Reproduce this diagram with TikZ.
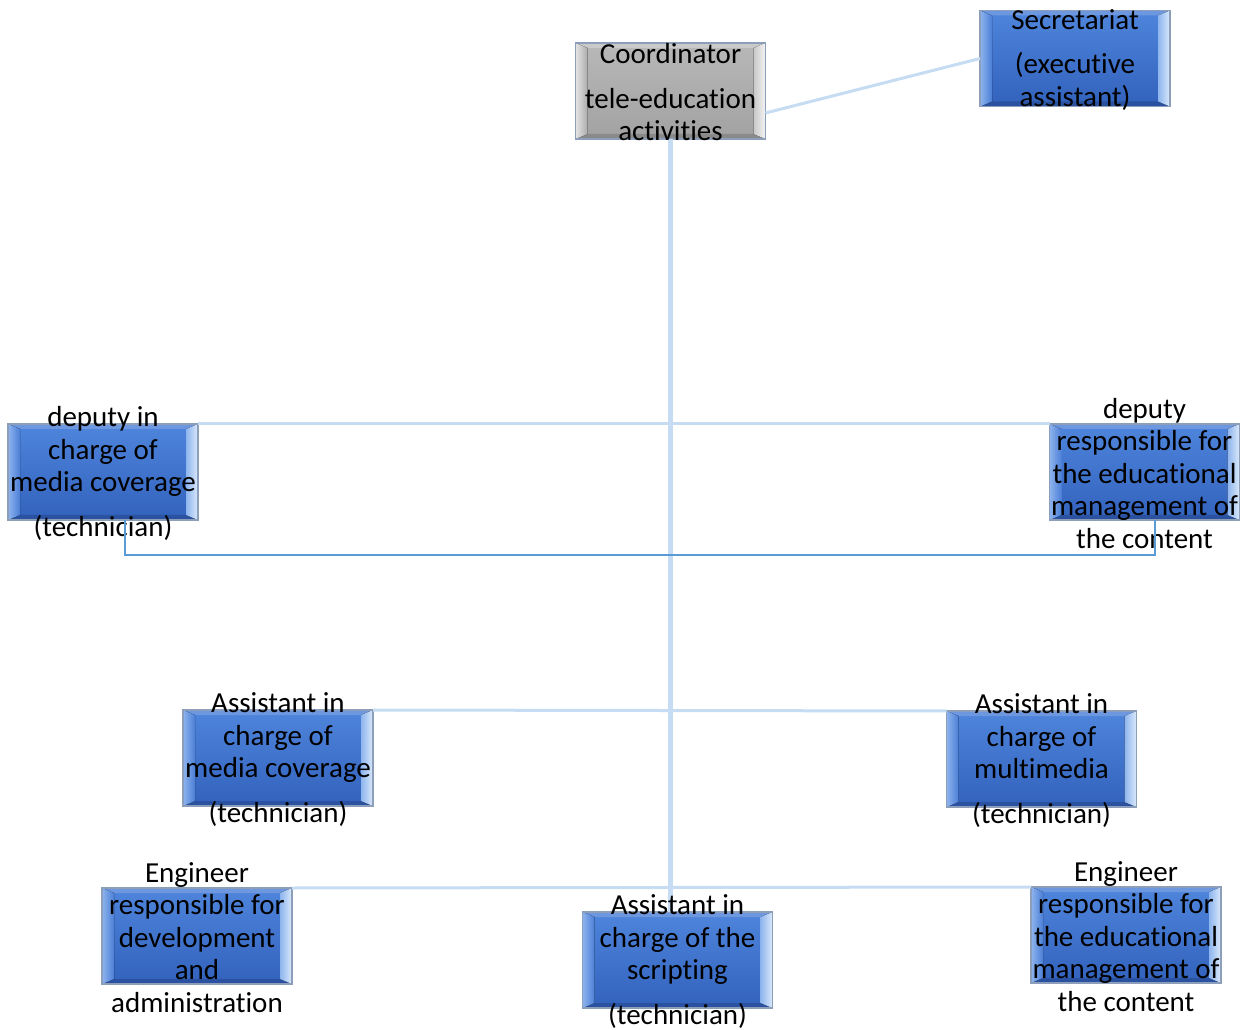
\documentclass[tikz,border=0pt]{standalone}
\usepackage{fontspec}
\setmainfont[RawFeature={-liga;-clig;-calt;-dlig}]{Carlito}
\usetikzlibrary{calc}
\definecolor{bmTop}{HTML}{4F85DC}
\definecolor{bmBot}{HTML}{3262BC}
\definecolor{bTopB}{HTML}{6D98E0}
\definecolor{bBotB}{HTML}{2A52A0}
\definecolor{bL1}{HTML}{8FB4EE}
\definecolor{bL2}{HTML}{4A7ED6}
\definecolor{bR1}{HTML}{8DB5EE}
\definecolor{bR2}{HTML}{DCE9FB}
\definecolor{gmTop}{HTML}{B8B8B8}
\definecolor{gmBot}{HTML}{A2A2A2}
\definecolor{gTopB}{HTML}{CACACA}
\definecolor{gBotB}{HTML}{8A8A8A}
\definecolor{gL1}{HTML}{E4E4E4}
\definecolor{gL2}{HTML}{ACACAC}
\definecolor{gR1}{HTML}{C8C8C8}
\definecolor{gR2}{HTML}{F4F4F4}
\definecolor{boxedge}{HTML}{8C9EBA}
\definecolor{lightline}{HTML}{C5DCF3}
\definecolor{darkline}{HTML}{5B9BD5}
\newcommand\mybevel[6]{%
  \fill[#1] (path picture bounding box.north west) -- (path picture bounding box.north east)
    -- ([shift={(-12pt,-5pt)}]path picture bounding box.north east)
    -- ([shift={(12pt,-5pt)}]path picture bounding box.north west) -- cycle;
  \fill[#2] (path picture bounding box.south west) -- (path picture bounding box.south east)
    -- ([shift={(-12pt,5pt)}]path picture bounding box.south east)
    -- ([shift={(12pt,5pt)}]path picture bounding box.south west) -- cycle;
  \fill[left color=#3, right color=#4] (path picture bounding box.north west) -- (path picture bounding box.south west)
    -- ([shift={(12pt,5pt)}]path picture bounding box.south west)
    -- ([shift={(12pt,-5pt)}]path picture bounding box.north west) -- cycle;
  \fill[left color=#5, right color=#6] (path picture bounding box.north east) -- (path picture bounding box.south east)
    -- ([shift={(-12pt,5pt)}]path picture bounding box.south east)
    -- ([shift={(-12pt,-5pt)}]path picture bounding box.north east) -- cycle;
}
\tikzset{
  boxbase/.style={rectangle, minimum width=190pt, minimum height=96pt, inner sep=0pt, outer sep=0pt,
    draw=boxedge, line width=1.5pt},
  bluebox/.style={boxbase, top color=bmTop, bottom color=bmBot,
    path picture={\mybevel{bTopB}{bBotB}{bL1}{bL2}{bR1}{bR2}}},
  greybox/.style={boxbase, top color=gmTop, bottom color=gmBot,
    path picture={\mybevel{gTopB}{gBotB}{gL1}{gL2}{gR1}{gR2}}},
  label/.style={align=center, inner sep=0pt, font=\fontsize{29pt}{32.5pt}\selectfont, text=black},
  light/.style={draw=lightline, line width=3pt},
  trunk/.style={draw=lightline, line width=5pt},
  bracket/.style={draw=darkline, line width=2.5pt}
}
\begin{document}
\begin{tikzpicture}[x=1pt,y=1pt]
\useasboundingbox (0,0) rectangle (1244,1029);
% boxes
\node[greybox] (coord) at (670.5,938) {};
\node[bluebox] (sec) at (1075,970.5) {};
\node[bluebox] (dl) at (103,557) {};
\node[bluebox] (dr) at (1144.5,557) {};
\node[bluebox] (al) at (278,271) {};
\node[bluebox] (ar) at (1041.5,270) {};
\node[bluebox] (el) at (197,93) {};
\node[bluebox] (asc) at (677.5,69) {};
\node[bluebox] (er) at (1126,94) {};
% connectors (light)
\coordinate (trunktop) at ([xshift=-0.5pt]coord.south);
\draw[trunk] (trunktop) -- (trunktop |- asc.north);
\draw[light] (dl.north east) -- (dr.north west);
\draw[light] (al.north east) -- (ar.north west);
\draw[light] (el.north east) -- (er.north west);
\draw[light] ([yshift=-22pt]coord.east) -- (sec.west);
% labels
\node[label] (coordT) at ([yshift=-1.5pt]coord.center) {Coordinator\\[12pt]tele-education\\activities};
\node[label] (secT) at ([yshift=-1.5pt]sec.center) {Secretariat\\[12pt](executive\\assistant)};
\node[label] (dlT) at ([yshift=-1.5pt]dl.center) {deputy in\\charge of\\media coverage\\[12pt](technician)};
\node[label] (drT) at ([yshift=-1.5pt]dr.center) {deputy\\responsible for\\the educational\\management of\\the content};
\node[label] (alT) at ([yshift=-1.5pt]al.center) {Assistant in\\charge of\\media coverage\\[12pt](technician)};
\node[label] (arT) at ([yshift=-1.5pt]ar.center) {Assistant in\\charge of\\multimedia\\[12pt](technician)};
\node[label] (elT) at ([yshift=-1.5pt]el.center) {Engineer\\responsible for\\development\\and\\administration};
\node[label] (ascT) at ([yshift=-1.5pt]asc.center) {Assistant in\\charge of the\\scripting\\[12pt](technician)};
\node[label] (erT) at ([yshift=-1.5pt]er.center) {Engineer\\responsible for\\the educational\\management of\\the content};
% dark bracket
\draw[bracket] ([xshift=22pt]dl.south) -- ++(0,-35) -| ([xshift=10.5pt]dr.south);
\end{tikzpicture}
\end{document}
